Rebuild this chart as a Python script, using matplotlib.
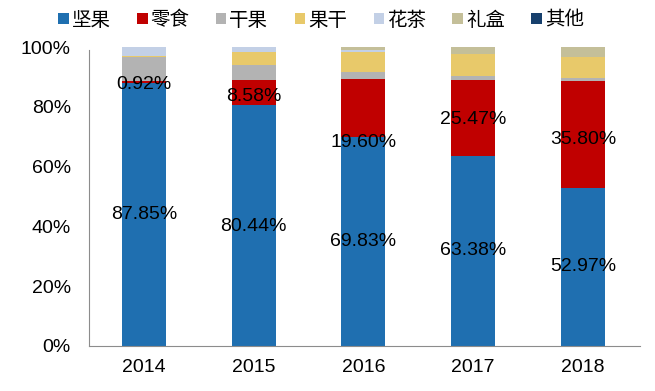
import matplotlib
matplotlib.use("Agg")
import matplotlib.pyplot as plt
import numpy as np

years = ["2014", "2015", "2016", "2017", "2018"]
series_names = ["坚果", "零食", "干果", "果干", "花茶", "礼盒", "其他"]
jianguo = [87.85, 80.44, 69.83, 63.38, 52.97]
lingshi = [0.92, 8.58, 19.60, 25.47, 35.80]
ganguo = [8.0, 5.0, 2.1, 1.55, 1.0]
guogan = [0.3, 4.2, 6.7, 7.3, 6.8]
huacha = [2.93, 1.78, 0.6, 0.0, 0.0]
lihe = [0.0, 0.0, 1.17, 2.3, 3.4]
qita = [0.0, 0.0, 0.0, 0.0, 0.03]
blue_labels = ["87.85%", "80.44%", "69.83%", "63.38%", "52.97%"]
red_labels = ["0.92%", "8.58%", "19.60%", "25.47%", "35.80%"]
red_label_y = [87.3, 83.6, 68.2, 75.6, 68.9]
blue_label_y = [43.9, 40.0, 34.8, 32.0, 26.6]

colors = ["#1f6fb0", "#c00000", "#b3b3b3", "#e8c96a", "#c3d0e6", "#c4bf99", "#17406d"]

plt.rcParams['font.family'] = ['Liberation Sans', 'Noto Sans CJK SC', 'DejaVu Sans']

fig = plt.figure(figsize=(6.55, 3.91), dpi=100)
ax = fig.add_axes([89/655, 1-346/391, (640-89)/655, (346-47)/391])

x = np.arange(len(years))
data = [jianguo, lingshi, ganguo, guogan, huacha, lihe, qita]
bottom = np.zeros(len(years))
handles = []
for vals, c, name in zip(data, colors, series_names):
    h = ax.bar(x, vals, width=0.4, bottom=bottom, color=c, label=name)
    handles.append(h)
    bottom += np.array(vals)

for i in range(len(years)):
    ax.text(x[i], blue_label_y[i], blue_labels[i], ha='center', va='center', fontsize=14, color='black')
    ax.text(x[i], red_label_y[i], red_labels[i], ha='center', va='center', fontsize=14, color='black')

ax.set_xlim(-0.5, 4.52)
ax.set_ylim(0, 100)
ax.set_yticks([0, 20, 40, 60, 80, 100])
ax.set_yticklabels(["0%", "20%", "40%", "60%", "80%", "100%"], fontsize=14)
ax.set_xticks(x)
ax.set_xticklabels(years, fontsize=14)
for s in ['top', 'right']:
    ax.spines[s].set_visible(False)
ax.spines['bottom'].set_color('#8c8c8c')
ax.spines['left'].set_color('#8c8c8c')
ax.spines['left'].set_bounds(0, 99)
ax.tick_params(axis='both', length=0)
ax.tick_params(axis='x', pad=9)
ax.tick_params(axis='y', pad=13)

leg = fig.legend(handles=handles, labels=series_names, loc='center', bbox_to_anchor=(0.49, 1-20/391),
                 ncol=7, frameon=False, handlelength=0.55, handleheight=0.55,
                 handletextpad=0.15, columnspacing=1.35,
                 prop={'family': ['Noto Sans CJK SC'], 'size': 14})

fig.savefig("out.png", dpi=100)
